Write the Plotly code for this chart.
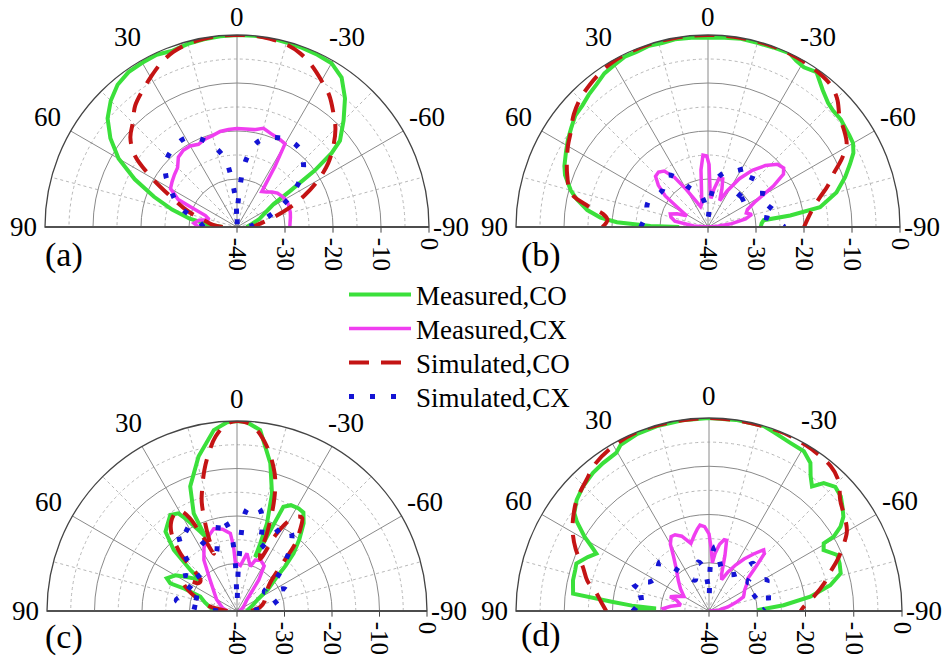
import math
import plotly.graph_objects as go

SERIES_NAMES = ["Measured,CO", "Measured,CX", "Simulated,CO", "Simulated,CX"]
PANEL_LABELS = ["(a)", "(b)", "(c)", "(d)"]
ANGLE_TICKS = [-90, -60, -30, 0, 30, 60, 90]
MINOR_ANGLE_TICKS = [-75, -45, -15, 15, 45, 75]
RADIAL_TICKS = [-40, -30, -20, -10, 0]
MINOR_RADIAL_TICKS = [-35, -25, -15, -5]

# ---- panel (a) : [theta(deg), level(dB)] ----
A_MCO = [[90,-37],[85,-34],[80,-30],[75,-26],[70,-21.6],[65,-16.5],[60,-11.5],[55,-7.8],[50,-4.8],[45,-2.8],
         [40,-1.3],[35,-0.6],[30,-0.5],[25,-0.4],[20,-0.9],[15,-0.5],[10,-0.3],[5,-0.1],[0,0],[-5,0],[-10,0],
         [-15,-0.2],[-20,-0.3],[-25,-0.4],[-30,-0.6],[-35,-2],[-40,-5],[-45,-8.6],[-50,-12],[-52,-15],[-54,-20],
         [-56,-27],[-58,-31],[-62,-33],[-70,-35],[-80,-37],[-90,-38]]
A_MCX = [[90,-32],[85,-31],[80,-32],[75,-34],[70,-33],[67,-30],[65,-26.5],[60,-24],[55,-23.5],[50,-23],[45,-22.5],
         [40,-21],[35,-20.5],[30,-20.5],[25,-21],[20,-20.5],[15,-20.3],[10,-19.8],[5,-19.6],[0,-19.5],[-5,-19.5],
         [-10,-19.4],[-15,-18.7],[-20,-19.3],[-25,-19.6],[-30,-20],[-32,-25],[-35,-31],[-40,-30.5],[-45,-29.7],
         [-50,-29],[-55,-28.7],[-60,-28.4],[-65,-28.3],[-70,-28.4],[-75,-28.5],[-80,-28.7],[-85,-28.9],[-90,-29]]
A_SCO = [[90,-37],[85,-35],[80,-33.5],[75,-31],[70,-28],[65,-24.5],[60,-19.5],[55,-14],[50,-11],[45,-9.3],[40,-7],
         [35,-5.5],[30,-4],[25,-2.4],[20,-1.2],[15,-0.5],[10,-0.2],[5,0],[0,0],[-5,0],[-10,-0.2],[-15,-0.6],
         [-20,-1.5],[-25,-3],[-30,-4.8],[-35,-6.5],[-40,-8.8],[-45,-11],[-50,-13.8],[-55,-16.8],[-60,-20.5],
         [-65,-24.5],[-70,-28.5],[-75,-32],[-80,-34.5],[-85,-36],[-90,-37]]
A_SCX = [[90,-33],[85,-32.5],[80,-31.5],[75,-29.5],[70,-27],[65,-25.5],[60,-24],[55,-22],[50,-20.5],[45,-19.5],
         [40,-19],[35,-18.6],[30,-18.6],[25,-19.5],[20,-21],[15,-23],[10,-25.5],[7,-29],[4,-33],[2,-36],[0,-40],
         [-2,-36],[-4,-32],[-6,-28],[-8,-25.6],[-12,-22.5],[-15,-21.3],[-20,-20.2],[-25,-19.5],[-30,-19],
         [-35,-18.9],[-40,-19.3],[-45,-20.5],[-50,-22],[-55,-24.5],[-60,-27],[-65,-30],[-70,-32.5],[-75,-34.5],
         [-80,-36],[-85,-37],[-90,-38]]

# ---- panel (b) ----
B_MCO = [[90,-34],[89,-28],[87,-21],[85,-17.5],[82,-14.6],[78,-12],[75,-10.4],[70,-8.3],[67,-7.5],[62,-6.5],
         [58,-5.6],[54,-4.8],[50,-3.9],[46,-3.6],[42,-2.9],[38,-2.3],[34,-1.4],[30,-1.0],[26,-0.5],[22,-0.6],
         [18,-0.3],[14,-0.5],[10,-0.3],[5,-0.4],[0,-0.5],[-5,-0.4],[-10,-0.2],[-15,-0.3],[-20,-0.2],[-25,0],
         [-28,-0.8],[-31,-1.2],[-35,-0.6],[-40,-2.8],[-44,-4],[-47,-4.4],[-51,-4.4],[-54,-4.7],[-57,-4.9],
         [-60,-5.1],[-63,-6],[-66,-7.6],[-70,-9.6],[-75,-12.3],[-80,-16.3],[-82,-22.7],[-83,-28.3],[-86,-28.8],
         [-90,-29]]
B_MCX = [[90,-40],[86,-37],[80,-33],[75,-32],[71,-31.7],[67,-33],[62,-35],[58,-33],[54,-29],[50,-26.5],
         [46,-24.8],[42,-24.6],[38,-25.2],[34,-27.5],[30,-31],[25,-34],[20,-35.5],[15,-35],[11,-33],[7,-28],
         [4,-25],[1,-25.2],[-1,-27],[-3,-32],[-6,-34],[-9,-32],[-13,-29.5],[-17,-29.5],[-20,-31.5],[-24,-34],
         [-28,-31.5],[-33,-28],[-38,-25],[-43,-22.5],[-48,-20.5],[-52,-20],[-55,-20.8],[-58,-24],[-62,-29],
         [-66,-31],[-70,-31.5],[-74,-30.5],[-78,-32],[-82,-35],[-86,-38],[-90,-40]]
B_SCO = [[90,-18],[86,-19],[83,-18],[80,-14.5],[76,-10.5],[70,-8.8],[66,-7.8],[60,-6.3],[56,-5.4],[50,-3.5],
         [45,-2.3],[40,-1.5],[35,-0.8],[30,-0.3],[20,0],[10,0],[0,0],[-10,0],[-20,0],[-30,-0.2],[-40,-0.8],
         [-45,-2],[-50,-4.2],[-55,-5.3],[-59,-6.3],[-63,-8.7],[-67,-11.6],[-71,-13.6],[-75,-15.8],[-80,-17.8],
         [-86,-19.3],[-90,-20]]
B_SCX = [[90,-26],[85,-26.5],[80,-27],[75,-26.8],[70,-26.5],[64,-26.6],[58,-27.5],[51,-27.8],[45,-27],[38,-26.3],
         [32,-28],[26,-30.8],[20,-32],[13,-33],[5,-36],[0,-38],[-5,-34],[-10,-30],[-15,-28.5],[-20,-27.5],
         [-27,-26.8],[-33,-25.5],[-39,-25],[-43,-27],[-47,-32.8],[-51,-31],[-55,-28],[-60,-26.2],[-65,-25.6],
         [-69,-25.4],[-74,-27],[-78,-29],[-82,-27.2],[-86,-25.5],[-90,-24]]

# ---- panel (c) ----
C_MCO = [[90,-36],[88,-35],[75,-33],[68.6,-31.7],[67,-28],[67.5,-24.8],[65,-23.7],[60,-25],[57,-26.7],[52,-29],
         [49.8,-29.9],[48.7,-27],[46,-21.5],[42,-17.5],[39.7,-16.9],[34.8,-15.4],[31,-16],[28.8,-18],[25,-21.5],
         [22.4,-23.4],[23.2,-22.2],[23.9,-17.5],[20.6,-12],[14,-6.5],[7.3,-1.6],[3,-0.2],[0,0],[-3,-0.2],
         [-7.3,-1.6],[-12.7,-8.1],[-16.6,-14.2],[-18.9,-20.5],[-19,-25],[-18.6,-28],[-20,-27],[-22,-23],
         [-24,-16],[-27,-15],[-31,-14.8],[-34,-15],[-37.2,-16.8],[-41,-20],[-44.5,-23],[-47,-26],[-49.4,-28.9],
         [-55,-32],[-61,-35],[-75,-37],[-90,-38]]
C_MCX = [[90,-38],[80,-37],[60,-35],[40,-31],[33,-27.2],[27.4,-24.9],[20,-23],[15.8,-22],[10,-22.5],[4.9,-23.6],
         [3,-26.5],[2,-29.7],[-4.3,-30.4],[-9.8,-27.7],[-13,-29],[-16.7,-30.2],[-19.8,-28.6],[-25,-28.2],
         [-31,-28.9],[-35,-32],[-42,-37],[-60,-38.5],[-90,-39.5]]
C_SCO = [[90,-38],[80,-34],[72,-31],[66,-28.5],[62,-27.3],[58,-28],[54,-30],[50,-30],[46,-26],[44.5,-23],
         [40,-18.5],[36,-16.5],[32,-15.6],[29.5,-15.8],[27,-18],[25.3,-21.9],[24,-24],[22,-27],[21,-23],
         [18,-16],[16.1,-13.5],[13,-9.5],[10.2,-6.3],[7,-3],[3,-0.5],[0,0],[-3,-0.3],[-6,-1.5],[-10.3,-4.8],
         [-14,-8.5],[-16.3,-11.3],[-18.8,-16],[-21.1,-22.5],[-22,-26.9],[-24,-28],[-27,-22],[-30,-18],
         [-33,-16.3],[-35,-16.1],[-38,-18.5],[-40.8,-21.2],[-44.4,-27],[-50,-31],[-60,-33],[-72,-34],
         [-80,-35],[-90,-37]]
C_SCX = [[90,-36],[84,-30],[80,-27],[75,-28],[70,-32],[65,-30],[60,-26],[55,-27],[50,-30],[45,-25.5],[40,-21.5],
         [35,-18.5],[30,-21],[25,-25],[20,-27],[15,-24],[10,-20],[5,-23],[2,-30],[0,-38],[-2,-30],[-5,-19],
         [-8,-17.5],[-13,-18.2],[-17,-22],[-20,-26],[-25,-22.5],[-30,-19.5],[-35,-20],[-40,-22.5],[-45,-26],
         [-50,-29],[-55,-33],[-60,-32],[-65,-29],[-70,-28.7],[-75,-31],[-80,-32.5],[-85,-35],[-90,-38]]

# ---- panel (d) ----
D_MCO = [[90,-24],[88.5,-26],[87.4,-29],[86,-24],[84.6,-20],[82.7,-11.6],[77.3,-11.1],[73,-11],[70.3,-10.8],
         [66,-12.5],[63,-13.8],[61,-12],[59.2,-10],[56,-7],[54,-5.5],[50,-4.2],[45.4,-3.3],[40,-2.6],
         [35.6,-2.3],[30.4,-2],[28,-1],[22,-0.4],[15.9,-0.2],[8,-0.1],[0,0],[-8,0],[-16.5,0],[-20,-0.6],
         [-25.8,-1.3],[-30.7,-1.5],[-34.4,-2.8],[-37,-5],[-39.6,-6.5],[-41.9,-4.4],[-45.5,-3.3],[-49,-3.8],
         [-52,-4.9],[-55,-6],[-57.3,-7.6],[-59.2,-9.9],[-59.5,-12.4],[-62,-13.1],[-66.4,-11],[-70,-11.2],
         [-74,-11.6],[-78,-14.3],[-82,-18.8],[-85.6,-24.5],[-89,-30]]
D_MCX = [[90,-31],[87,-30.5],[83,-32],[78,-34],[72,-33],[70,-31.4],[66,-32.5],[60,-34],[52,-32.5],[45,-31],
         [38,-29],[33,-26.5],[30,-24],[27,-22.7],[24,-22.7],[20,-23.5],[15,-25.5],[11,-24],[8,-22.8],[6,-22.1],
         [3,-22.5],[0,-24],[-2,-27],[-4,-30],[-6,-28],[-9,-26],[-12,-24.9],[-14,-24.9],[-16,-28],[-19,-32],
         [-22,-33],[-26,-31],[-30,-29],[-34,-27],[-38,-25],[-41.8,-23],[-44,-23.5],[-47,-27],[-50,-29.5],
         [-55,-30.5],[-60,-31.5],[-65,-32],[-67.8,-32.3],[-72,-34],[-78,-36],[-85,-38],[-90,-40]]
D_SCO = [[90,-18.7],[85,-17.5],[81,-16.4],[76,-14],[70.7,-12.3],[65,-9.5],[60.3,-7.5],[56,-6],[50,-4.2],
         [43,-2.8],[38,-1.5],[30,-0.5],[20,0],[0,0],[-20,0],[-30,-0.2],[-40,-0.8],[-45,-2],[-49.8,-4.4],
         [-56.3,-6],[-60,-7],[-63.4,-8.7],[-68.4,-11.4],[-72,-13.5],[-76.6,-15.5],[-82,-18],[-87.6,-20.4],
         [-90,-21]]
D_SCX = [[90,-25],[85,-23.5],[80,-25],[77,-26.7],[73,-25],[70,-23.3],[66,-25],[63.8,-26.3],[58,-27],[52,-26.5],
         [45,-25.6],[40,-28],[36.6,-29.9],[30,-32],[24,-33],[18,-31],[12.3,-29.6],[7,-31],[3,-34],[0,-37],
         [-2,-30],[-5.4,-26.6],[-9,-28],[-15,-30.5],[-21,-31.7],[-28,-31.5],[-36.5,-30.4],[-43,-26.5],
         [-48,-27.5],[-54,-30],[-58,-28],[-62,-26.4],[-67,-27.5],[-72,-30],[-74,-30.8],[-77,-28],[-79,-26.4],
         [-84,-27.5],[-89,-28.7]]

PANELS = [
    [A_MCO, A_MCX, A_SCO, A_SCX],
    [B_MCO, B_MCX, B_SCO, B_SCX],
    [C_MCO, C_MCX, C_SCO, C_SCX],
    [D_MCO, D_MCX, D_SCO, D_SCX],
]

# ---------------- styling / layout ----------------
W, H = 950, 665
SERIF = "Liberation Serif, Times New Roman, serif"
STYLES = [
    dict(color="#3be03b", width=4, dash="solid", shape="linear"),
    dict(color="#f03ef0", width=3.5, dash="solid", shape="linear"),
    dict(color="#c41414", width=4, dash="20px,12px", shape="spline"),
    dict(color="#1414d4", width=5, dash="5px,16px", shape="spline"),
]
# pixel boxes of each half-disc: (cx, baseline_y, radius)
BOXES = [(237, 227, 192), (708, 227, 192), (237, 611, 190), (709, 611, 193)]
LABEL_POS = [(64, 255), (541, 255), (64, 637), (541, 635)]
LEGEND_IDS = ["legend", "legend2", "legend3", "legend4"]
LEGEND_ROWS = [295, 329, 363, 397]
LABEL_FONT = 27

fig = go.Figure()
layout = {}
for i, (cx, by, R) in enumerate(BOXES):
    dom = dict(x=[(cx - R) / W, (cx + R) / W], y=[1 - by / H, 1 - (by - R) / H])
    bg_id = "polar" if i == 0 else f"polar{2 * i + 1}"
    fg_id = f"polar{2 * i + 2}"
    layout[bg_id] = dict(
        domain=dom, sector=[0, 180], bgcolor="white",
        angularaxis=dict(rotation=90, direction="counterclockwise", tickmode="array",
                         tickvals=MINOR_ANGLE_TICKS, showticklabels=False, ticks="",
                         showgrid=True, gridcolor="#b8b8b8", griddash="dot", gridwidth=1, showline=False),
        radialaxis=dict(range=[-40, 0], tickmode="array", tickvals=MINOR_RADIAL_TICKS,
                        showticklabels=False, ticks="", showgrid=True, gridcolor="#b8b8b8",
                        griddash="dot", angle=180, showline=True, linecolor="#444", linewidth=1.3),
    )
    layout[fg_id] = dict(
        domain=dom, sector=[0, 180], bgcolor="rgba(0,0,0,0)",
        angularaxis=dict(rotation=90, direction="counterclockwise", tickmode="array",
                         tickvals=ANGLE_TICKS, showticklabels=False, ticks="",
                         showgrid=True, gridcolor="#8a8a8a", gridwidth=1,
                         showline=True, linecolor="#444", linewidth=1.3),
        radialaxis=dict(range=[-40, 0], tickmode="array", tickvals=RADIAL_TICKS,
                        ticktext=[str(v) for v in RADIAL_TICKS], tickangle=90,
                        tickfont=dict(family=SERIF, size=25, color="black"),
                        ticks="outside", ticklen=5, tickcolor="#444",
                        showgrid=True, gridcolor="#8a8a8a", angle=0, side="clockwise",
                        showline=True, linecolor="#444", linewidth=1.3),
    )
    # invisible anchor trace so the background grid subplot is drawn
    fig.add_trace(go.Scatterpolar(r=[RADIAL_TICKS[0]], theta=[0], mode="markers",
                                  marker=dict(opacity=0), subplot=bg_id,
                                  showlegend=False, hoverinfo="skip"))
    for k, series in enumerate(PANELS[i]):
        st = STYLES[k]
        fig.add_trace(go.Scatterpolar(
            theta=[p[0] for p in series], r=[p[1] for p in series],
            mode="lines", name=SERIES_NAMES[k], subplot=fg_id,
            line=dict(color=st["color"], width=st["width"], dash=st["dash"], shape=st["shape"]),
            showlegend=(i == 0), legendgroup=SERIES_NAMES[k], legend=LEGEND_IDS[k],
        ))
    # angular tick labels placed just outside the arc
    for a in ANGLE_TICKS:
        rad = math.radians(a)
        gap = 22 + 6 * abs(math.sin(2 * rad))
        px = cx - (R + gap) * math.sin(rad)
        py = max(by - (R + gap) * math.cos(rad), LABEL_FONT * 0.62)
        fig.add_annotation(text=str(a), x=px / W, y=1 - py / H, xref="paper", yref="paper",
                           xanchor="center", yanchor="middle", showarrow=False,
                           font=dict(family=SERIF, size=LABEL_FONT, color="black"))
    lx, ly = LABEL_POS[i]
    fig.add_annotation(text=PANEL_LABELS[i], x=lx / W, y=1 - ly / H, xref="paper", yref="paper",
                       xanchor="center", yanchor="middle", showarrow=False,
                       font=dict(family=SERIF, size=34, color="black"))

for lid, row in zip(LEGEND_IDS, LEGEND_ROWS):
    layout[lid] = dict(x=344 / W, y=1 - row / H, xanchor="left", yanchor="middle",
                       font=dict(family=SERIF, size=27, color="black"), bgcolor="rgba(0,0,0,0)",
                       itemwidth=62, tracegroupgap=0)

fig.update_layout(
    **layout,
    width=W, height=H, margin=dict(l=0, r=0, t=0, b=0),
    paper_bgcolor="white", plot_bgcolor="white",
    showlegend=True,
)
fig.write_html("out.html")
